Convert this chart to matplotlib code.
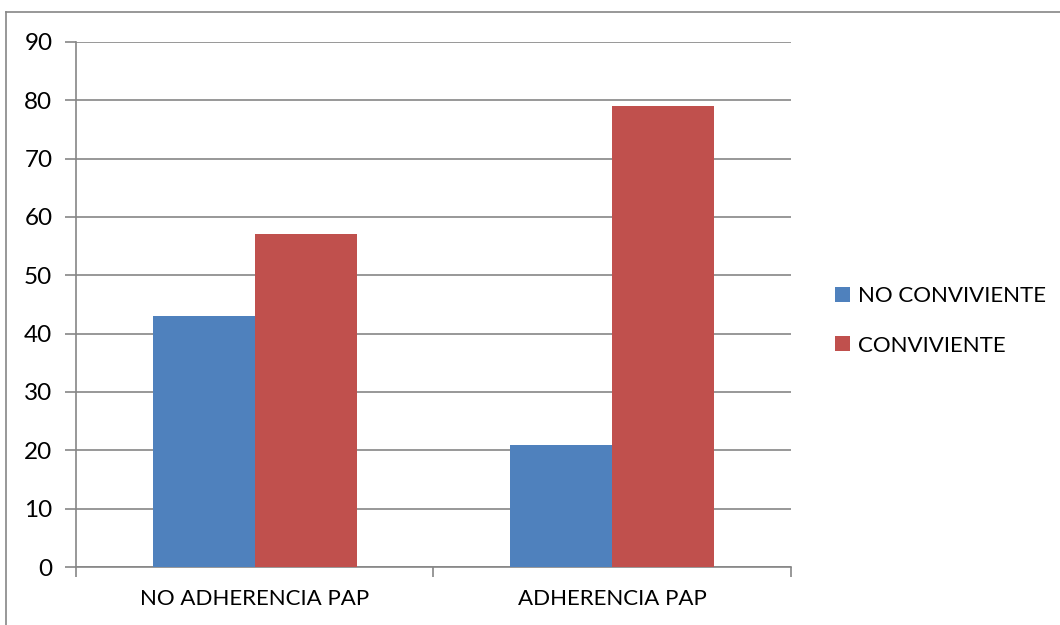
import matplotlib.pyplot as plt
import numpy as np
from matplotlib.lines import Line2D

categories = ['NO ADHERENCIA PAP', 'ADHERENCIA PAP']
series_names = ['NO CONVIVIENTE', 'CONVIVIENTE']
no_conviviente = [43, 21]
conviviente = [57, 79]
y_ticks = list(range(0, 100, 10))

BLUE = '#4f81bd'
RED = '#c0504d'
GRID = '#868686'


def plot_chart():
    plt.rcParams['font.family'] = ['Lato', 'DejaVu Sans']
    fig = plt.figure(figsize=(10.6, 6.25), dpi=100)
    ax = fig.add_axes([0.0717, 0.0928, 0.6745, 0.84])

    x = np.arange(len(categories))
    width = 1 / 3.5
    ax.bar(x - width / 2, no_conviviente, width, color=BLUE, label=series_names[0], zorder=3)
    ax.bar(x + width / 2, conviviente, width, color=RED, label=series_names[1], zorder=3)

    ax.set_xlim(-0.5, len(categories) - 0.5)
    ax.set_ylim(0, 90)
    ax.set_yticks(y_ticks)
    ax.set_yticklabels([str(v) for v in y_ticks], fontsize=17.5)
    ax.yaxis.grid(True, color=GRID, linewidth=1.2, zorder=0)
    ax.tick_params(axis='y', length=8, width=1.2, color=GRID, pad=9)

    # category labels centred, ticks at the category boundaries
    ax.set_xticks(x)
    ax.set_xticklabels(categories, fontsize=16)
    ax.tick_params(axis='x', length=0, pad=16)
    ax.set_xticks(np.arange(len(categories) + 1) - 0.5, minor=True)
    ax.tick_params(axis='x', which='minor', length=7, width=1.2, color=GRID)

    for side in ['top', 'right']:
        ax.spines[side].set_visible(False)
    for side in ['left', 'bottom']:
        ax.spines[side].set_color(GRID)
        ax.spines[side].set_linewidth(1.2)

    ax.legend(loc='center left', bbox_to_anchor=(1.033, 0.4686), frameon=False,
              fontsize=16, handlelength=0.68, handleheight=0.68, handletextpad=0.36,
              labelspacing=1.32)

    # chart area border
    fig.add_artist(Line2D([6 / 1060, 6 / 1060], [0, 1 - 12 / 625],
                          transform=fig.transFigure, color=GRID, linewidth=1.2))
    fig.add_artist(Line2D([6 / 1060, 1], [1 - 12 / 625, 1 - 12 / 625],
                          transform=fig.transFigure, color=GRID, linewidth=1.2))

    fig.savefig('out.png', dpi=100)


if __name__ == '__main__':
    plot_chart()
